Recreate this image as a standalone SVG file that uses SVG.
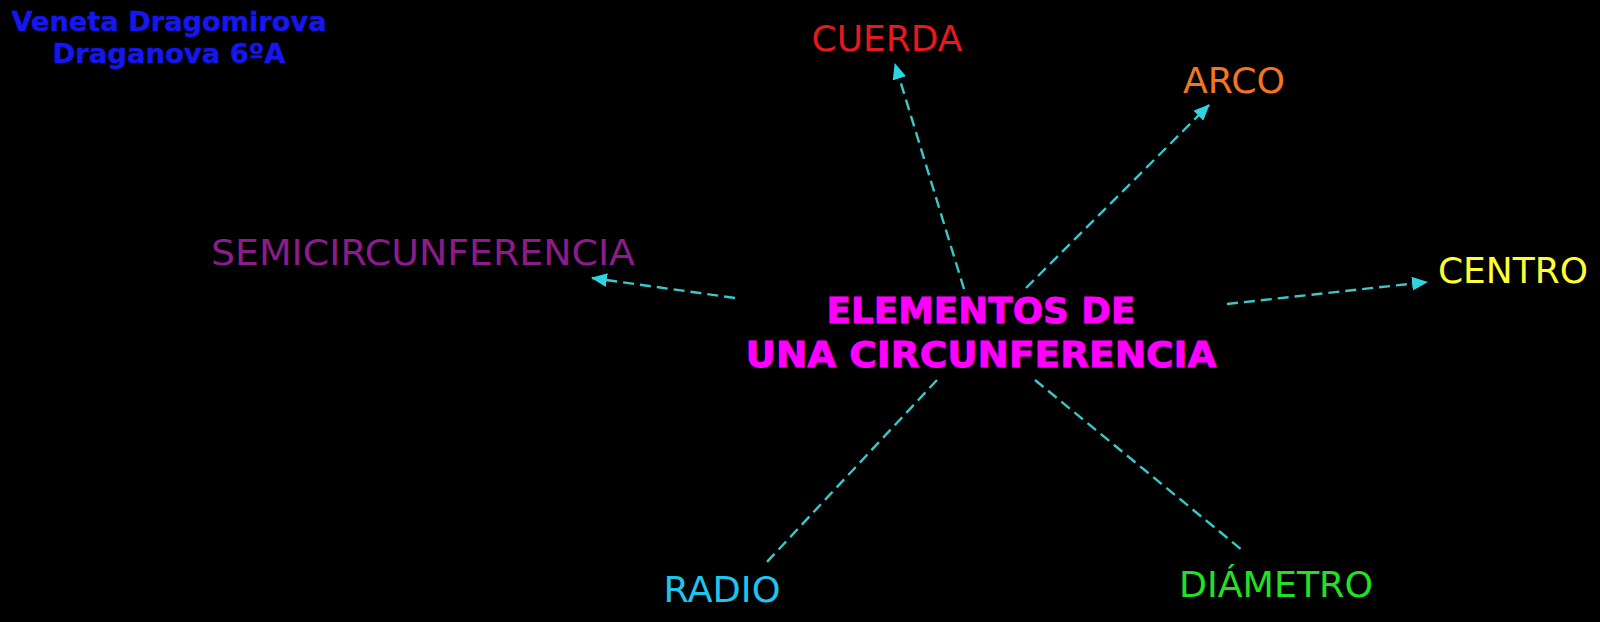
<svg xmlns="http://www.w3.org/2000/svg" width="1600" height="622" viewBox="0 0 1600 622">
<style>
text{font-family:"DejaVu Sans",Verdana,sans-serif;text-anchor:middle}
.lbl{font-size:35px}
.main{font-size:35px;font-weight:bold;fill:#f0f;stroke:#f0f;stroke-width:0.8}
.title{font-size:26.5px;font-weight:bold;fill:#1616ee;stroke:#1616ee;stroke-width:0.4}
.conn{stroke:#3cc8c8;stroke-width:2.4;stroke-dasharray:11 6;fill:none}
</style>
<defs>
<marker id="arr" viewBox="0 0 16 14" refX="15" refY="7" markerWidth="16" markerHeight="14" markerUnits="userSpaceOnUse" orient="auto">
<path d="M0,0 L16,7 L0,14 Z" fill="#2ed4e0"/>
</marker>
</defs>
<rect width="1600" height="622" fill="#000"/>
<g id="connectors">
<line class="conn" x1="964" y1="289" x2="895" y2="64" marker-end="url(#arr)"/>
<line class="conn" x1="1026" y1="288" x2="1209" y2="105" marker-end="url(#arr)"/>
<line class="conn" x1="1227" y1="304" x2="1427" y2="282" marker-end="url(#arr)"/>
<line class="conn" x1="735" y1="298" x2="592" y2="278" marker-end="url(#arr)"/>
<line class="conn" x1="937" y1="380" x2="766" y2="563"/>
<line class="conn" x1="1035" y1="380" x2="1242" y2="550"/>
</g>
<g id="title"><text class="title" x="169" y="31" textLength="315" lengthAdjust="spacingAndGlyphs">Veneta Dragomirova</text><text class="title" x="169" y="63" textLength="233" lengthAdjust="spacingAndGlyphs">Draganova 6ºA</text></g>
<g id="center"><text class="main" x="981" y="323" textLength="309" lengthAdjust="spacingAndGlyphs">ELEMENTOS DE</text><text class="main" x="981" y="367" textLength="471" lengthAdjust="spacingAndGlyphs">UNA CIRCUNFERENCIA</text></g>
<g id="cuerda"><text class="lbl" x="887" y="51" fill="#e8181c" textLength="151" lengthAdjust="spacingAndGlyphs">CUERDA</text></g>
<g id="arco"><text class="lbl" x="1234" y="93" fill="#f07524" textLength="102" lengthAdjust="spacingAndGlyphs">ARCO</text></g>
<g id="centro"><text class="lbl" x="1513" y="283" fill="#ffff33" textLength="150" lengthAdjust="spacingAndGlyphs">CENTRO</text></g>
<g id="semicircunferencia"><text class="lbl" x="423" y="265" fill="#8c1c8c" textLength="424" lengthAdjust="spacingAndGlyphs">SEMICIRCUNFERENCIA</text></g>
<g id="radio"><text class="lbl" x="722" y="602" fill="#20c4ec" textLength="117" lengthAdjust="spacingAndGlyphs">RADIO</text></g>
<g id="diametro"><text class="lbl" x="1276" y="597" fill="#22e022" textLength="194" lengthAdjust="spacingAndGlyphs">DIÁMETRO</text></g>
</svg>
